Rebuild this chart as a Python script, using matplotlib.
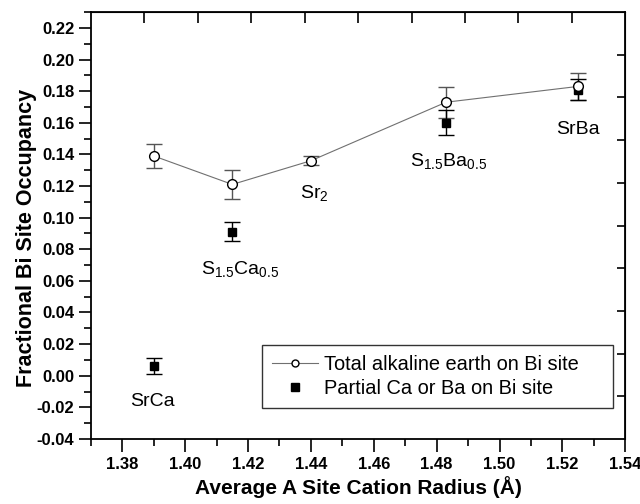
import matplotlib
matplotlib.use("Agg")
import matplotlib.pyplot as plt
from matplotlib.lines import Line2D
from matplotlib.ticker import MultipleLocator, FormatStrFormatter

# ---- data ----
radius_total = [1.39, 1.415, 1.44, 1.483, 1.525]
occ_total = [0.139, 0.121, 0.136, 0.173, 0.183]
err_total = [0.0075, 0.009, 0.003, 0.0097, 0.0085]

radius_partial = [1.39, 1.415, 1.483, 1.525]
occ_partial = [0.006, 0.091, 0.160, 0.181]
err_partial = [0.005, 0.006, 0.008, 0.0065]

label_texts = ["SrCa", r"S$_{1.5}$Ca$_{0.5}$", r"Sr$_{2}$", r"S$_{1.5}$Ba$_{0.5}$", "SrBa"]
label_x = [1.3897, 1.4174, 1.441, 1.4838, 1.525]
label_y = [-0.019, 0.0644, 0.1122, 0.1326, 0.153]

legend_labels = ["Total alkaline earth on Bi site", "Partial Ca or Ba on Bi site"]

plt.rcParams['font.family'] = ['Liberation Sans', 'DejaVu Sans']
plt.rcParams['mathtext.fontset'] = 'custom'
plt.rcParams['mathtext.rm'] = 'Liberation Sans'
plt.rcParams['mathtext.it'] = 'Liberation Sans:italic'
plt.rcParams['mathtext.bf'] = 'Liberation Sans:bold'
plt.rcParams['mathtext.default'] = 'regular'
plt.rcParams['axes.unicode_minus'] = False

fig = plt.figure(figsize=(6.4, 5.04), dpi=100)
ax = fig.add_axes([0.142, 0.129, 0.835, 0.847])

# total series
ax.plot(radius_total, occ_total, color='#707070', lw=0.8, zorder=2)
ax.errorbar(radius_total, occ_total, yerr=err_total, fmt='none', ecolor='#555555',
            elinewidth=1.0, capsize=6, capthick=1.0, zorder=3)
ax.plot(radius_total, occ_total, 'o', ms=7, mfc='white', mec='black', mew=1.0,
        ls='none', zorder=5)

# partial series
ax.errorbar(radius_partial, occ_partial, yerr=err_partial, fmt='s', ms=6,
            mfc='black', mec='black', ecolor='black', elinewidth=1.0,
            capsize=6, capthick=1.0, zorder=4)

for t, x, y in zip(label_texts, label_x, label_y):
    ax.text(x, y, t, ha='center', va='baseline', fontsize=14)

ax.set_xlim(1.37, 1.54)
ax.xaxis.set_major_locator(MultipleLocator(0.02))
ax.xaxis.set_minor_locator(MultipleLocator(0.01))
ax.yaxis.set_minor_locator(MultipleLocator(0.01))
ax.xaxis.set_major_formatter(FormatStrFormatter('%.2f'))
ax.yaxis.set_major_formatter(FormatStrFormatter('%.2f'))
ax.set_yticks([v / 100 for v in range(-4, 23, 2)])
ax.set_ylim(-0.04, 0.23)

ax.tick_params(axis='both', which='major', direction='out', length=9, width=1.2,
               labelsize=12, top=False, right=False)
ax.tick_params(axis='both', which='minor', direction='out', length=5, width=1.2,
               top=False, right=False)
ax.tick_params(axis='y', which='major', pad=3)
ax.tick_params(axis='x', which='major', pad=4)
for lab in ax.get_xticklabels() + ax.get_yticklabels():
    lab.set_fontweight('bold')

for s in ax.spines.values():
    s.set_linewidth(1.3)

# independent top/right axes ticks
secx = ax.secondary_xaxis('top', functions=(lambda x: (x - 1.37) / 0.17,
                                             lambda f: 1.37 + 0.17 * f))
secx.set_xticks([i / 10 for i in range(1, 10)])
secx.tick_params(direction='in', length=8, width=1.2, labeltop=False)
secy = ax.secondary_yaxis('right', functions=(lambda y: (y + 0.04) / 0.27,
                                               lambda f: -0.04 + 0.27 * f))
secy.set_yticks([i / 10 for i in range(1, 10)])
secy.tick_params(direction='in', length=6, width=1.2, labelright=False)

ax.set_xlabel('Average A Site Cation Radius (Å)', fontsize=15, fontweight='bold',
              labelpad=3)
ax.set_ylabel('Fractional Bi Site Occupancy', fontsize=15.5, fontweight='bold')
ax.yaxis.set_label_coords(-0.100, 0.4707)

handles = [
    Line2D([], [], color='#707070', lw=0.8, marker='o', ms=5, mfc='white', mec='black'),
    Line2D([], [], color='black', ls='none', marker='s', ms=5.5, mfc='black', mec='black'),
]
leg = ax.legend(handles, legend_labels, loc='lower left',
                bbox_to_anchor=(0.32, 0.073, 0.657, 0.149), mode='expand',
                borderaxespad=0, fontsize=14.4, handlelength=2.3, handletextpad=0.33,
                borderpad=0.5, labelspacing=0.25, fancybox=False, framealpha=1,
                edgecolor='#333333')
leg.get_frame().set_linewidth(1.0)

fig.savefig('out.png', dpi=100)
